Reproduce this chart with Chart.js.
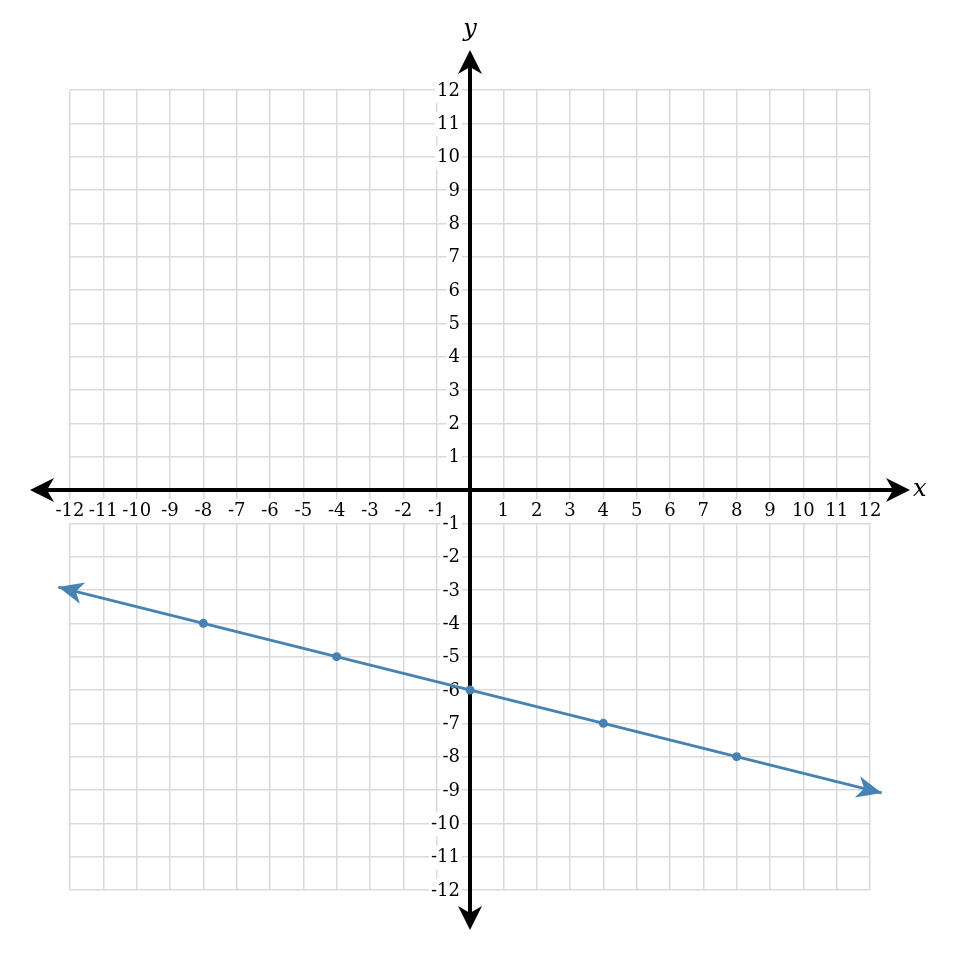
<!DOCTYPE html>
<html>
<head>
<meta charset="utf-8">
<script src="https://cdn.jsdelivr.net/npm/chart.js@4/dist/chart.umd.min.js"></script>
<style>
  html, body { margin: 0; padding: 0; background: #ffffff; }
  #wrap { width: 964px; height: 972px; }
</style>
</head>
<body>
<div id="wrap"><canvas id="c" width="964" height="972"></canvas></div>
<script>
// ---- data ----
const xTickLabels = [-12,-11,-10,-9,-8,-7,-6,-5,-4,-3,-2,-1,1,2,3,4,5,6,7,8,9,10,11,12];
const yTickLabels = [-12,-11,-10,-9,-8,-7,-6,-5,-4,-3,-2,-1,1,2,3,4,5,6,7,8,9,10,11,12];
const pointX = [-8, -4, 0, 4, 8];
const pointY = [-4, -5, -6, -7, -8];
const lineEndX = [-12.35, 12.35];
const lineEndY = [-2.9125, -9.0875];
const axisMin = -12;
const axisMax = 12;
const axisArrowReach = 13.2;

const LINE_COLOR = '#4682b4';
const LABEL_FONT = '18px "DejaVu Serif", "Liberation Serif", serif';

function drawArrowHead(ctx, tx, ty, fromX, fromY, len, halfW, notch, color) {
  const dx = tx - fromX, dy = ty - fromY;
  const d = Math.hypot(dx, dy) || 1;
  const ux = dx / d, uy = dy / d;
  const nx = -uy, ny = ux;
  ctx.save();
  ctx.fillStyle = color;
  ctx.beginPath();
  ctx.moveTo(tx, ty);
  ctx.lineTo(tx - ux * len + nx * halfW, ty - uy * len + ny * halfW);
  ctx.lineTo(tx - ux * notch, ty - uy * notch);
  ctx.lineTo(tx - ux * len - nx * halfW, ty - uy * len - ny * halfW);
  ctx.closePath();
  ctx.fill();
  ctx.restore();
}

function drawLabel(ctx, text, x, y, align) {
  ctx.font = LABEL_FONT;
  const w = ctx.measureText(text).width;
  let left;
  if (align === 'center') left = x - w / 2;
  else left = x - w;
  ctx.fillStyle = '#ffffff';
  ctx.fillRect(left - 2, y - 12, w + 4, 24);
  ctx.fillStyle = '#000000';
  ctx.textAlign = align;
  ctx.textBaseline = 'middle';
  ctx.fillText(text, x, y);
}

const axesPlugin = {
  id: 'centerAxes',
  beforeDatasetsDraw(chart) {
    const ctx = chart.ctx;
    const xs = chart.scales.x, ys = chart.scales.y;
    const x0 = xs.getPixelForValue(0), y0 = ys.getPixelForValue(0);
    ctx.save();
    xTickLabels.forEach(v => {
      drawLabel(ctx, String(v), xs.getPixelForValue(v), y0 + 21, 'center');
    });
    yTickLabels.forEach(v => {
      drawLabel(ctx, String(v), x0 - 10, ys.getPixelForValue(v) + 1, 'right');
    });
    const xl = xs.getPixelForValue(-axisArrowReach), xr = xs.getPixelForValue(axisArrowReach);
    const yt = ys.getPixelForValue(axisArrowReach), yb = ys.getPixelForValue(-axisArrowReach);
    ctx.strokeStyle = '#000000';
    ctx.lineWidth = 4;
    ctx.beginPath();
    ctx.moveTo(xl + 10, y0); ctx.lineTo(xr - 10, y0);
    ctx.moveTo(x0, yt + 10); ctx.lineTo(x0, yb - 10);
    ctx.stroke();
    drawArrowHead(ctx, xl, y0, x0, y0, 24, 12, 17, '#000');
    drawArrowHead(ctx, xr, y0, x0, y0, 24, 12, 17, '#000');
    drawArrowHead(ctx, x0, yt, x0, y0, 24, 12, 17, '#000');
    drawArrowHead(ctx, x0, yb, x0, y0, 24, 12, 17, '#000');
    ctx.fillStyle = '#000';
    ctx.font = 'italic 24px "DejaVu Serif", "Liberation Serif", serif';
    ctx.textAlign = 'left';
    ctx.textBaseline = 'middle';
    ctx.fillText('x', xr + 3, y0);
    ctx.textAlign = 'center';
    ctx.textBaseline = 'alphabetic';
    ctx.fillText('y', x0, yt - 14);
    ctx.restore();
  },
  afterDatasetsDraw(chart) {
    const ctx = chart.ctx;
    const xs = chart.scales.x, ys = chart.scales.y;
    const p1x = xs.getPixelForValue(lineEndX[0]), p1y = ys.getPixelForValue(lineEndY[0]);
    const p2x = xs.getPixelForValue(lineEndX[1]), p2y = ys.getPixelForValue(lineEndY[1]);
    drawArrowHead(ctx, p1x, p1y, p2x, p2y, 25, 11, 18, LINE_COLOR);
    drawArrowHead(ctx, p2x, p2y, p1x, p1y, 25, 11, 18, LINE_COLOR);
  }
};

new Chart(document.getElementById('c'), {
  type: 'scatter',
  data: {
    datasets: [
      {
        type: 'line',
        data: lineEndX.map((x, i) => ({ x, y: lineEndY[i] })),
        borderColor: LINE_COLOR,
        borderWidth: 3,
        pointRadius: 0,
        fill: false,
        tension: 0
      },
      {
        data: pointX.map((x, i) => ({ x, y: pointY[i] })),
        backgroundColor: LINE_COLOR,
        borderColor: LINE_COLOR,
        pointRadius: 4.5,
        borderWidth: 0
      }
    ]
  },
  options: {
    responsive: false,
    animation: false,
    devicePixelRatio: 1,
    layout: { padding: { left: 70, right: 94, top: 90, bottom: 82 } },
    plugins: { legend: { display: false }, tooltip: { enabled: false } },
    clip: false,
    scales: {
      x: {
        type: 'linear', min: axisMin, max: axisMax,
        ticks: { display: false, stepSize: 1 },
        grid: { color: '#dadada', lineWidth: 1.5, drawTicks: false },
        border: { display: false }
      },
      y: {
        type: 'linear', min: axisMin, max: axisMax,
        ticks: { display: false, stepSize: 1 },
        grid: { color: '#dadada', lineWidth: 1.5, drawTicks: false },
        border: { display: false }
      }
    }
  },
  plugins: [axesPlugin]
});
</script>
</body>
</html>
